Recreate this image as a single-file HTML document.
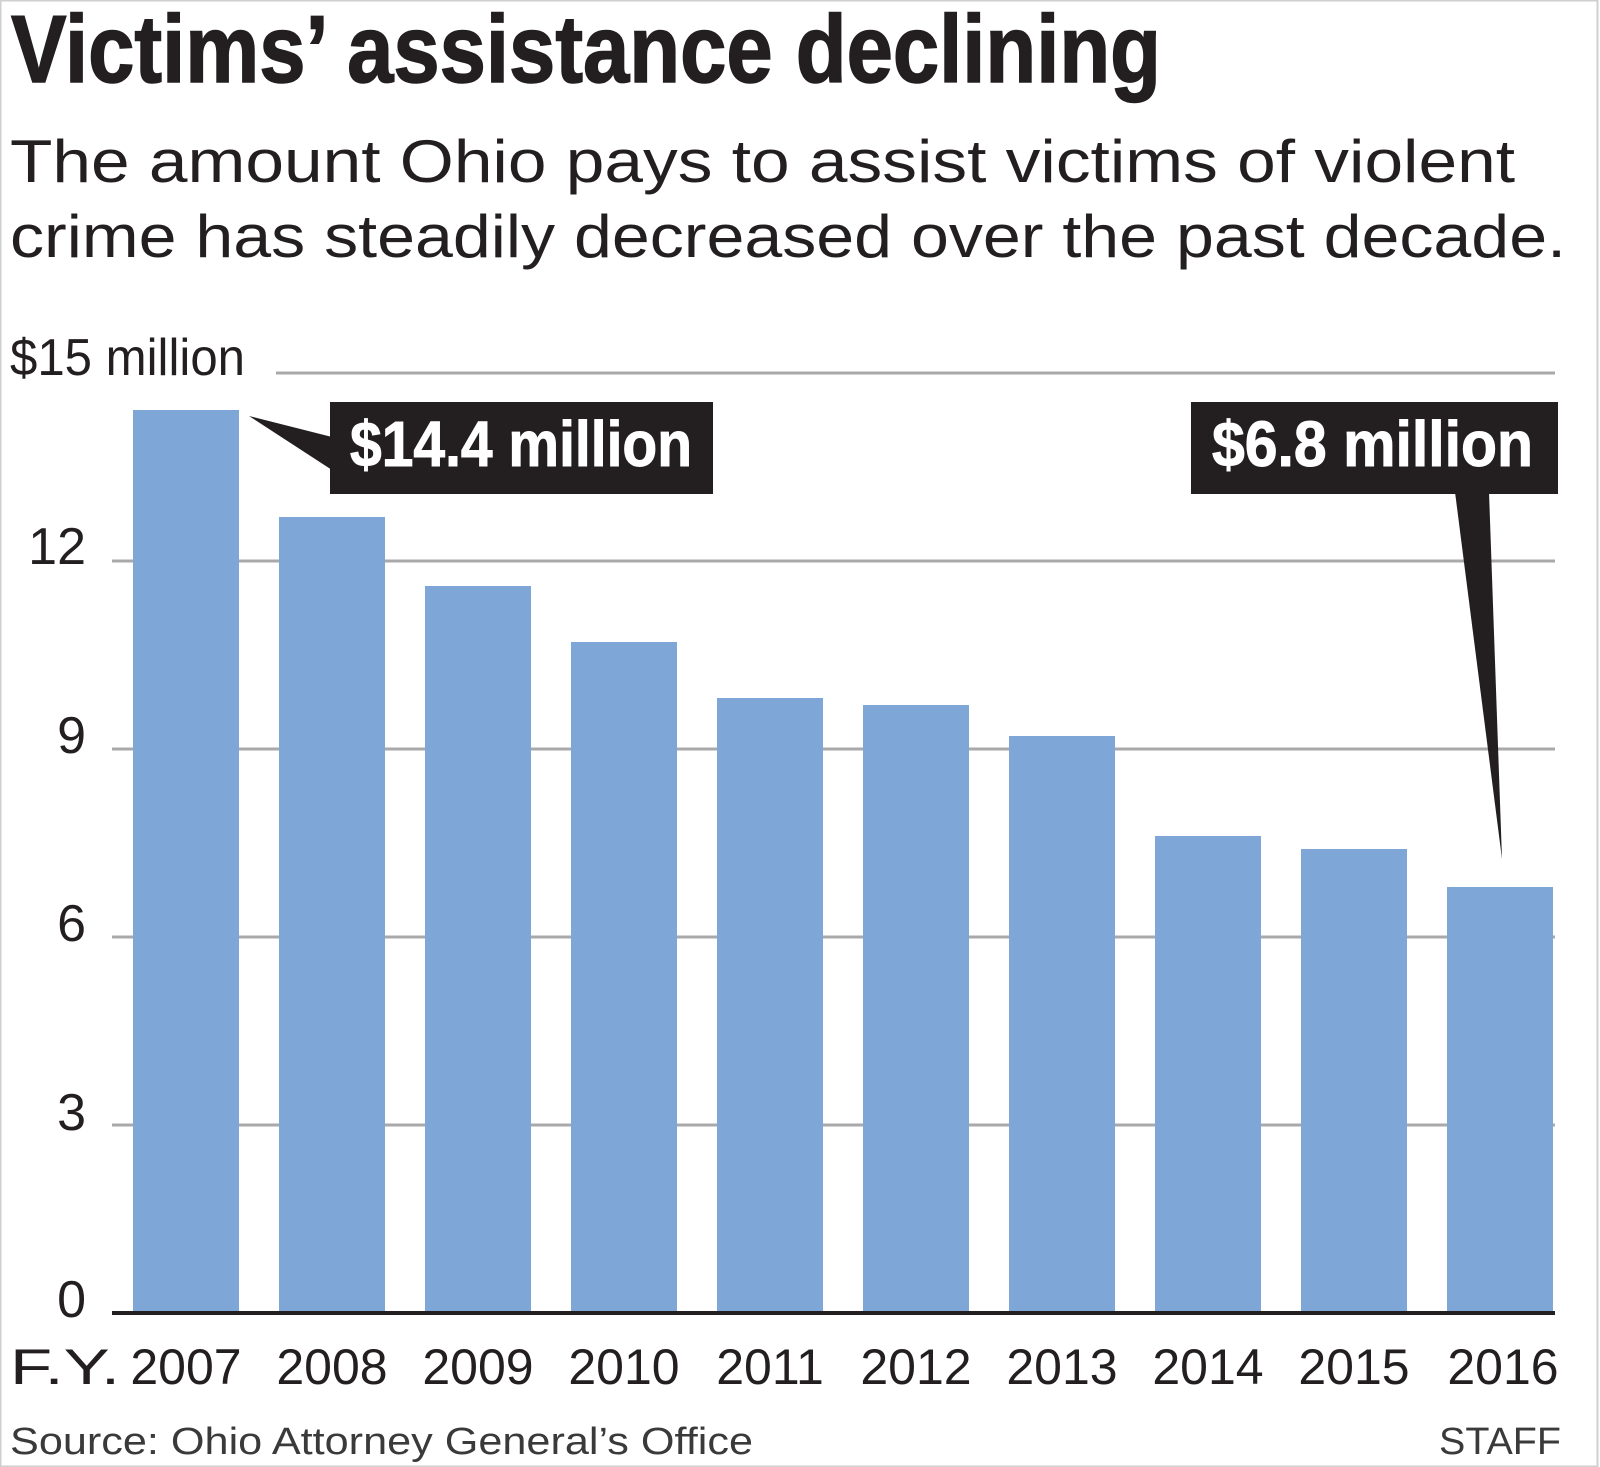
<!DOCTYPE html>
<html><head><meta charset="utf-8"><style>html,body{margin:0;padding:0;background:#fff}svg{display:block}</style></head>
<body>
<svg width="1600" height="1467" viewBox="0 0 1600 1467" xmlns="http://www.w3.org/2000/svg">
<rect x="0.5" y="0.5" width="1597" height="1466" fill="#fff" stroke="#cfcfcf" stroke-width="2"/>
<g font-family="'Liberation Sans Narrow','Liberation Sans',sans-serif" fill="#231f20">
<text x="11" y="82" font-size="96" font-weight="bold" stroke="#231f20" stroke-width="1.5" textLength="1150" lengthAdjust="spacingAndGlyphs">Victims’ assistance declining</text>
</g>
<g font-family="'Liberation Sans',sans-serif" fill="#231f20">
<text x="10" y="182" font-size="60" textLength="1505" lengthAdjust="spacingAndGlyphs">The amount Ohio pays to assist victims of violent</text>
<text x="10" y="257" font-size="60" textLength="1556" lengthAdjust="spacingAndGlyphs">crime has steadily decreased over the past decade.</text>
</g>
<g stroke="#a9a9a9" stroke-width="3">
<line x1="276" y1="373" x2="1555" y2="373"/>
<line x1="112" y1="561" x2="1555" y2="561"/>
<line x1="112" y1="749" x2="1555" y2="749"/>
<line x1="112" y1="937" x2="1555" y2="937"/>
<line x1="112" y1="1125" x2="1555" y2="1125"/>
</g>
<g fill="#7ea7d8">
<rect x="133" y="410" width="106" height="903"/>
<rect x="279" y="517" width="106" height="796"/>
<rect x="425" y="586" width="106" height="727"/>
<rect x="571" y="642" width="106" height="671"/>
<rect x="717" y="698" width="106" height="615"/>
<rect x="863" y="705" width="106" height="608"/>
<rect x="1009" y="736" width="106" height="577"/>
<rect x="1155" y="836" width="106" height="477"/>
<rect x="1301" y="849" width="106" height="464"/>
<rect x="1447" y="887" width="106" height="426"/>
</g>
<line x1="112" y1="1313" x2="1555" y2="1313" stroke="#231f20" stroke-width="4"/>
<g font-family="'Liberation Sans Narrow','Liberation Sans',sans-serif" fill="#231f20" font-size="52">
<text x="10" y="375" textLength="235" lengthAdjust="spacingAndGlyphs">$15 million</text>
<text x="86" y="564" text-anchor="end">12</text>
<text x="86" y="753" text-anchor="end">9</text>
<text x="86" y="941" text-anchor="end">6</text>
<text x="86" y="1130" text-anchor="end">3</text>
<text x="86" y="1317" text-anchor="end">0</text>
</g>
<g font-family="'Liberation Sans',sans-serif" fill="#231f20" font-size="50">
<text x="10" y="1384" textLength="110" lengthAdjust="spacingAndGlyphs">F.Y.</text>
<g text-anchor="middle">
<text x="186" y="1384">2007</text><text x="332" y="1384">2008</text><text x="478" y="1384">2009</text>
<text x="624" y="1384">2010</text><text x="770" y="1384">2011</text><text x="916" y="1384">2012</text>
<text x="1062" y="1384">2013</text><text x="1208" y="1384">2014</text><text x="1354" y="1384">2015</text>
<text x="1503" y="1384">2016</text>
</g>
</g>
<g font-family="'Liberation Sans',sans-serif" fill="#3a3a3a" font-size="38">
<text x="10" y="1454" textLength="743" lengthAdjust="spacingAndGlyphs">Source: Ohio Attorney General’s Office</text>
<text x="1561" y="1454" text-anchor="end" textLength="122" lengthAdjust="spacingAndGlyphs">STAFF</text>
</g>
<g fill="#231f20">
<rect x="330" y="402" width="383" height="92"/>
<polygon points="249,416 332,437 332,470"/>
<rect x="1191" y="402" width="367" height="92"/>
<polygon points="1455,492 1489,492 1502,859"/>
</g>
<g font-family="'Liberation Sans Narrow','Liberation Sans',sans-serif" fill="#fff" stroke="#fff" stroke-width="1" font-weight="bold" font-size="64">
<text x="350" y="466" textLength="342" lengthAdjust="spacingAndGlyphs">$14.4 million</text>
<text x="1212" y="466" textLength="321" lengthAdjust="spacingAndGlyphs">$6.8 million</text>
</g>
</svg>
</body></html>
